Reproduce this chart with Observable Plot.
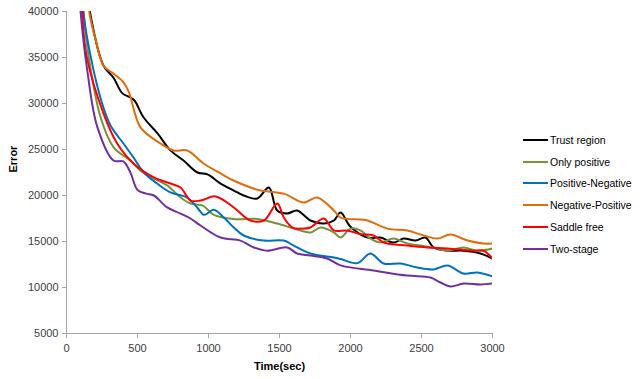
<!DOCTYPE html>
<html><head><meta charset="utf-8">
<script src="https://cdn.jsdelivr.net/npm/d3@7"></script>
<script src="https://cdn.jsdelivr.net/npm/@observablehq/plot@0.6"></script>
<style>
body{margin:0;background:#fff;}
#wrap{position:relative;width:640px;height:379px;font-family:"Liberation Sans",Arial,sans-serif;}
#legend{position:absolute;left:523px;top:129px;font-size:10.5px;color:#000;}
.item{display:flex;align-items:center;height:21.8px;white-space:nowrap;}
.sw{width:25px;height:2px;margin-right:2px;}
</style></head><body><div id="wrap"><div id="legend"></div></div>
<script>
const seriesNames = ["Trust region","Only positive","Positive-Negative","Negative-Positive","Saddle free","Two-stage"];
const seriesColors = ["#000000","#77933C","#0070C0","#E36C09","#FF0000","#7030A0"];
const xTicks = [0,500,1000,1500,2000,2500,3000];
const yTicks = [5000,10000,15000,20000,25000,30000,35000,40000];

const trustRegion = [[110,46000],[183,38500],[261,34100],[331,32800],[394,31100],[450,30650],[480,30300],[542,28500],[641,26750],[732,24900],[824,23800],[922,22500],[993,22300],[1085,21300],[1178,20540],[1248,20000],[1343,19670],[1425,20870],[1484,18370],[1554,18040],[1624,18370],[1718,17280],[1812,16950],[1883,17280],[1930,18150],[2000,16600],[2120,15430],[2211,15430],[2303,14890],[2373,15320],[2458,15100],[2528,15430],[2585,14350],[2683,14000],[2796,14000],[2915,13700],[3000,13150]];
const onlyPositive = [[70,50000],[120,40000],[155,35200],[240,28500],[333,25200],[450,23800],[521,22700],[615,21850],[709,21100],[803,19780],[873,19130],[960,18900],[1037,17900],[1178,17450],[1343,17450],[1484,16950],[1624,16300],[1718,15980],[1790,16520],[1883,15980],[1930,15430],[2000,16400],[2070,16200],[2140,15320],[2211,14890],[2303,15320],[2400,14780],[2493,14560],[2612,14240],[2683,14000],[2796,14350],[2894,14000],[3000,14240]];
const positiveNegative = [[70,50000],[118,40000],[169,35200],[245,30300],[310,27600],[401,25650],[472,24130],[545,22500],[638,21300],[732,20330],[850,19780],[920,18700],[968,17900],[1037,18450],[1108,17610],[1178,16520],[1248,15650],[1390,15100],[1530,15100],[1600,14560],[1718,13700],[1883,13260],[1930,13100],[2049,12650],[2140,13700],[2233,12610],[2352,12610],[2470,12170],[2585,11960],[2683,12390],[2796,11520],[2894,11630],[3000,11200]];
const negativePositive = [[110,50000],[160,40000],[204,37000],[261,34100],[331,33250],[401,32300],[440,31200],[521,27400],[662,25650],[754,24890],[850,24890],[965,23480],[1085,22400],[1176,21630],[1296,20870],[1366,20540],[1530,20200],[1671,19240],[1765,19780],[1883,18370],[1930,17600],[2070,17390],[2120,17280],[2260,16400],[2400,16200],[2515,15650],[2612,15320],[2704,15760],[2824,15100],[2937,14780],[3000,14780]];
const saddleFree = [[70,50000],[110,40000],[141,35200],[261,28900],[357,25650],[472,23480],[615,21960],[732,21300],[803,20870],[873,19450],[944,19450],[1050,19900],[1178,18700],[1296,17280],[1390,17280],[1484,19130],[1530,17610],[1590,16520],[1650,16400],[1718,16520],[1812,17500],[1883,16200],[1977,16200],[2070,15800],[2162,15650],[2233,14890],[2400,14560],[2540,14350],[2683,14240],[2866,14000],[2937,14000],[3000,13150]];
const twoStage = [[60,50000],[99,40000],[148,33400],[218,27400],[331,23800],[400,23700],[450,22500],[500,20600],[560,20200],[615,20000],[709,18700],[803,18040],[873,17500],[944,16740],[1085,15430],[1225,15100],[1320,14350],[1413,14000],[1554,14350],[1624,13700],[1718,13480],[1836,13150],[1930,12400],[2162,11850],[2400,11300],[2563,11090],[2634,10540],[2704,10110],[2796,10430],[2915,10330],[3000,10430]];

const allSeries = [trustRegion, onlyPositive, positiveNegative, negativePositive, saddleFree, twoStage];
const data = allSeries.flatMap((arr, i) => arr.map(([t, v]) => ({t, v, s: seriesNames[i]})));

const chart = Plot.plot({
  width: 640, height: 379,
  marginLeft: 66, marginRight: 148, marginTop: 11, marginBottom: 46,
  style: {fontFamily: "Liberation Sans, Arial, sans-serif", fontSize: "11px", color: "#404040", background: "white", overflow: "visible"},
  x: {domain: [0, 3000]},
  y: {domain: [5000, 40000]},
  color: {domain: seriesNames, range: seriesColors},
  marks: [
    Plot.axisX({ticks: xTicks, tickSize: 5, tickPadding: 6, stroke: "#a6a6a6", tickFormat: "d", label: null}),
    Plot.axisY({ticks: yTicks, tickSize: 4, tickPadding: 4, stroke: "#a6a6a6", tickFormat: "d", label: null}),
    Plot.ruleX([0], {stroke: "#a6a6a6"}),
    Plot.ruleY([5000], {stroke: "#a6a6a6"}),
    Plot.line(data, {x: "t", y: "v", z: "s", stroke: "s", strokeWidth: 2, curve: "catmull-rom", clip: true}),
    Plot.text(["Time(sec)"], {frameAnchor: "bottom", dy: 36, fontWeight: "bold", fill: "#000", fontSize: 11}),
    Plot.text(["Error"], {frameAnchor: "left", dx: -53, rotate: -90, fontWeight: "bold", fill: "#000", fontSize: 11})
  ]
});
document.getElementById("wrap").prepend(chart);

const legend = document.getElementById("legend");
seriesNames.forEach((n, i) => {
  const it = document.createElement("div");
  it.className = "item";
  it.innerHTML = `<span class="sw" style="background:${seriesColors[i]}"></span><span>${n}</span>`;
  legend.appendChild(it);
});
</script>
</body></html>
